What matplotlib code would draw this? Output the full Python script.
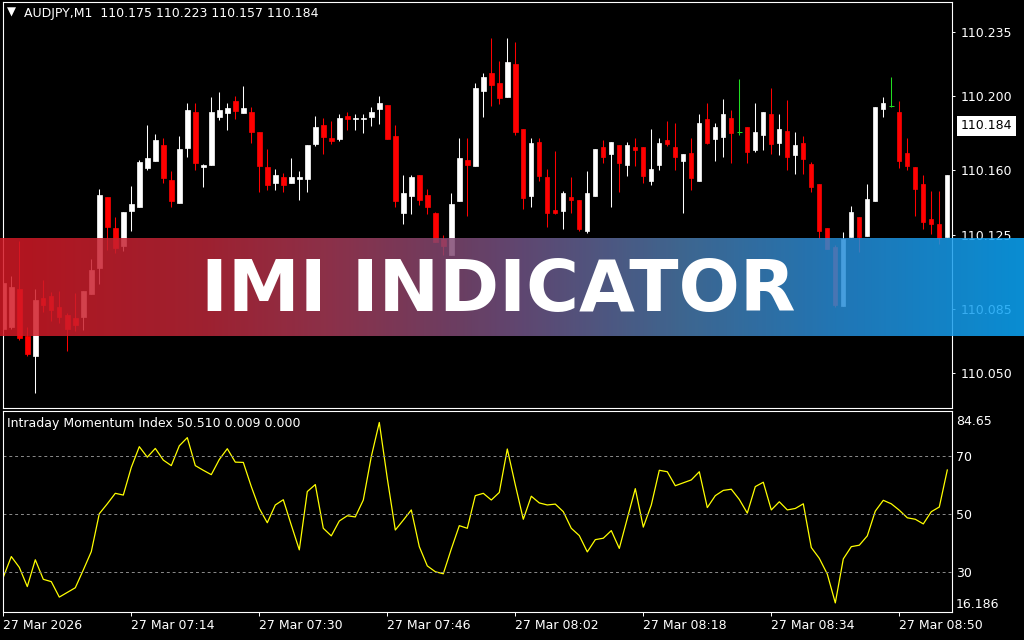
import numpy as np
import matplotlib
matplotlib.use("Agg")
import matplotlib.pyplot as plt
from matplotlib.transforms import blended_transform_factory

# AUDJPY M1 bars, 27 Mar 2026 06:58 .. 08:56 (one bar per minute)
opens = [110.0740, 110.0751, 110.0957, 110.0702, 110.0594, 110.0908, 110.0919, 110.0859, 110.0816, 110.0800,
         110.0805, 110.0930, 110.1070, 110.1455, 110.1287, 110.1190, 110.1379, 110.1401, 110.1612, 110.1650,
         110.1737, 110.1547, 110.1423, 110.1720, 110.1915, 110.1618, 110.1628, 110.1888, 110.1910, 110.1975,
         110.1910, 110.1915, 110.1807, 110.1618, 110.1531, 110.1563, 110.1531, 110.1553, 110.1553, 110.1742,
         110.1845, 110.1775, 110.1769, 110.1894, 110.1877, 110.1877, 110.1888, 110.1932, 110.1953, 110.1785,
         110.1368, 110.1460, 110.1574, 110.1466, 110.1368, 110.1228, 110.1141, 110.1433, 110.1655, 110.1623,
         110.2029, 110.2127, 110.2072, 110.1997, 110.2175, 110.1823, 110.1460, 110.1753, 110.1563, 110.1385,
         110.1379, 110.1455, 110.1439, 110.1271, 110.1460, 110.1726, 110.1688, 110.1737, 110.1628, 110.1726,
         110.1726, 110.1542, 110.1628, 110.1764, 110.1726, 110.1650, 110.1693, 110.1542, 110.1877, 110.1769,
         110.1780, 110.1883, 110.1807, 110.1834, 110.1710, 110.1791, 110.1905, 110.1747, 110.1812, 110.1682,
         110.1747, 110.1634, 110.1525, 110.1287, 110.1184, 110.0865, 110.1238, 110.1347, 110.1244, 110.1433,
         110.1932, 110.1948, 110.1915, 110.1693, 110.1618, 110.1525, 110.1336, 110.1309, 110.1238]
highs = [110.1006, 110.1027, 110.1217, 110.0751, 110.0957, 110.1006, 110.0940, 110.0946, 110.0827, 110.0935,
         110.0946, 110.1119, 110.1498, 110.1455, 110.1347, 110.1374, 110.1515, 110.1655, 110.1845, 110.1796,
         110.1775, 110.1596, 110.1785, 110.1964, 110.1964, 110.1634, 110.1997, 110.2024, 110.1964, 110.2002,
         110.2056, 110.1943, 110.1807, 110.1715, 110.1607, 110.1585, 110.1666, 110.1596, 110.1737, 110.1894,
         110.1883, 110.1867, 110.1905, 110.1915, 110.1905, 110.1905, 110.1943, 110.2002, 110.1953, 110.1845,
         110.1574, 110.1574, 110.1574, 110.1498, 110.1374, 110.1249, 110.1477, 110.1775, 110.1775, 110.2072,
         110.2127, 110.2316, 110.2192, 110.2316, 110.2295, 110.1823, 110.1775, 110.1775, 110.1607, 110.1704,
         110.1488, 110.1563, 110.1439, 110.1596, 110.1715, 110.1764, 110.1753, 110.1737, 110.1753, 110.1775,
         110.1726, 110.1823, 110.1775, 110.1867, 110.1856, 110.1688, 110.1775, 110.1905, 110.1964, 110.1856,
         110.1986, 110.1926, 110.2094, 110.1834, 110.1964, 110.1915, 110.2045, 110.1905, 110.1980, 110.1807,
         110.1785, 110.1645, 110.1525, 110.1287, 110.1195, 110.1266, 110.1406, 110.1347, 110.1525, 110.1943,
         110.1997, 110.2105, 110.1975, 110.1775, 110.1618, 110.1574, 110.1488, 110.1488, 110.1574]
lows = [110.0697, 110.0740, 110.0681, 110.0594, 110.0393, 110.0832, 110.0783, 110.0773, 110.0621, 110.0729,
        110.0735, 110.0930, 110.0984, 110.1168, 110.1152, 110.1163, 110.1271, 110.1401, 110.1601, 110.1650,
        110.1531, 110.1401, 110.1423, 110.1672, 110.1601, 110.1509, 110.1628, 110.1872, 110.1818, 110.1877,
        110.1910, 110.1747, 110.1482, 110.1493, 110.1493, 110.1482, 110.1531, 110.1439, 110.1482, 110.1731,
        110.1688, 110.1742, 110.1758, 110.1818, 110.1818, 110.1802, 110.1840, 110.1850, 110.1769, 110.1401,
        110.1309, 110.1363, 110.1412, 110.1363, 110.1211, 110.1141, 110.1141, 110.1433, 110.1352, 110.1623,
        110.1888, 110.1948, 110.1959, 110.1997, 110.1791, 110.1390, 110.1401, 110.1542, 110.1293, 110.1363,
        110.1282, 110.1368, 110.1271, 110.1260, 110.1460, 110.1639, 110.1401, 110.1482, 110.1569, 110.1623,
        110.1531, 110.1520, 110.1601, 110.1731, 110.1601, 110.1368, 110.1493, 110.1542, 110.1742, 110.1650,
        110.1672, 110.1639, 110.1791, 110.1639, 110.1699, 110.1710, 110.1688, 110.1682, 110.1601, 110.1580,
        110.1580, 110.1482, 110.1233, 110.1173, 110.0859, 110.0865, 110.1238, 110.1157, 110.1244, 110.1433,
        110.1888, 110.1943, 110.1612, 110.1601, 110.1352, 110.1282, 110.1255, 110.1201, 110.1238]
closes = [110.0989, 110.0968, 110.0691, 110.0605, 110.0897, 110.0870, 110.0843, 110.0805, 110.0740, 110.0762,
          110.0946, 110.1060, 110.1466, 110.1293, 110.1179, 110.1374, 110.1417, 110.1645, 110.1666, 110.1764,
          110.1558, 110.1433, 110.1715, 110.1926, 110.1639, 110.1628, 110.1915, 110.1926, 110.1937, 110.1921,
          110.1937, 110.1807, 110.1623, 110.1520, 110.1574, 110.1520, 110.1563, 110.1563, 110.1737, 110.1834,
          110.1780, 110.1758, 110.1883, 110.1877, 110.1883, 110.1883, 110.1915, 110.1964, 110.1769, 110.1433,
          110.1477, 110.1563, 110.1439, 110.1401, 110.1211, 110.1190, 110.1417, 110.1666, 110.1628, 110.2045,
          110.2105, 110.2062, 110.1991, 110.2186, 110.1807, 110.1450, 110.1747, 110.1569, 110.1368, 110.1368,
          110.1477, 110.1439, 110.1282, 110.1477, 110.1715, 110.1672, 110.1753, 110.1639, 110.1737, 110.1710,
          110.1569, 110.1607, 110.1747, 110.1742, 110.1672, 110.1688, 110.1558, 110.1856, 110.1747, 110.1834,
          110.1905, 110.1802, 110.1807, 110.1699, 110.1807, 110.1915, 110.1742, 110.1823, 110.1672, 110.1737,
          110.1661, 110.1509, 110.1271, 110.1173, 110.0870, 110.1228, 110.1374, 110.1238, 110.1444, 110.1943,
          110.1964, 110.1948, 110.1650, 110.1623, 110.1498, 110.1320, 110.1309, 110.1233, 110.1574]

# Intraday Momentum Index, one value per bar
imi = [28.3, 35.4, 31.7, 25.1, 34.3, 27.6, 26.8, 21.5, 23.1, 24.7,
       30.8, 37.1, 50.1, 53.5, 57.1, 56.5, 66.0, 73.1, 69.5, 72.5,
       68.5, 66.6, 73.4, 76.2, 66.6, 65.0, 63.5, 68.7, 72.4, 67.8,
       67.7, 59.4, 51.9, 47.0, 53.1, 54.9, 46.2, 37.7, 57.7, 60.1,
       45.1, 42.5, 47.6, 49.4, 49.0, 54.8, 69.7, 81.4, 62.2, 44.5,
       47.9, 51.4, 38.8, 32.2, 30.2, 29.5, 38.0, 46.0, 45.1, 56.3,
       57.1, 54.8, 57.4, 72.3, 60.0, 48.2, 56.1, 53.8, 53.1, 53.4,
       50.8, 45.1, 42.6, 37.0, 41.2, 41.7, 44.3, 38.2, 48.5, 58.7,
       45.5, 53.1, 65.0, 64.5, 59.7, 60.7, 61.7, 64.5, 52.2, 56.3,
       58.1, 58.5, 55.0, 50.3, 59.4, 60.9, 51.4, 54.2, 51.4, 51.9,
       53.5, 38.5, 34.8, 29.4, 19.5, 34.6, 38.8, 39.3, 42.5, 51.0,
       54.7, 53.5, 51.3, 48.7, 48.2, 46.6, 50.8, 52.4, 65.1]

time_ticks = [0, 16, 32, 48, 64, 80, 96, 112]
time_labels = ["27 Mar 2026", "27 Mar 07:14", "27 Mar 07:30", "27 Mar 07:46",
               "27 Mar 08:02", "27 Mar 08:18", "27 Mar 08:34", "27 Mar 08:50"]
price_ticks = [110.235, 110.200, 110.160, 110.125, 110.085, 110.050]
imi_levels = [30, 50, 70]
last_price = 110.184
header = "AUDJPY,M1  110.175 110.223 110.157 110.184"
imi_header = "Intraday Momentum Index 50.510 0.009 0.000"
imi_max, imi_min = "84.65", "16.186"

plt.rcParams["font.family"] = ["DejaVu Sans"]
W, H = 1024, 640

fig = plt.figure(figsize=(10.24, 6.4), dpi=100, facecolor="black")
ax = fig.add_axes([2.7 / W, 1 - 408.3 / H, 949.6 / W, 406.6 / H], facecolor="black")
ax2 = fig.add_axes([2.7 / W, 1 - 612.3 / H, 949.6 / W, 201.6 / H], facecolor="black")

o = np.array(opens)
h = np.array(highs)
l = np.array(lows)
c = np.array(closes)
x = np.arange(len(o))

# candles: white up, red down, green for open == close
cols = np.where(c > o, "white", np.where(c < o, "#ff0000", "#22dd22"))
ax.vlines(x, l, h, colors=cols, linewidth=0.75)
body = c != o
ax.bar(x[body], np.abs(c - o)[body], bottom=np.minimum(o, c)[body], width=0.55,
       color=cols[body], edgecolor=cols[body], linewidth=0.5)
ax.hlines(o[~body], x[~body] - 0.33, x[~body] + 0.33, colors=cols[~body], linewidth=0.75)

ax.set_xlim(-0.075, 118.625)
ax.set_ylim(110.0310, 110.2512)
ax.set_xticks([])
ax.yaxis.tick_right()
ax.set_yticks(price_ticks, [f"{v:.3f}" for v in price_ticks])
ax.tick_params(axis="y", colors="white", length=2.5, width=0.7, pad=3.2, labelsize=9)
for s in ax.spines.values():
    s.set_color("white")
    s.set_linewidth(0.8)

# current price marker
tr = blended_transform_factory(ax.transAxes, ax.transData)
ax.text(1.0085, last_price, f"{last_price:.3f}", transform=tr, ha="left", va="center",
        fontsize=9, color="black", clip_on=False,
        bbox=dict(boxstyle="square,pad=0.3", fc="white", ec="none"))

# IMI sub window
ax2.plot(x, imi, color="#ffff00", linewidth=0.9)
for lv in imi_levels:
    ax2.axhline(lv, color="#8c8c8c", linewidth=0.7, linestyle=(0, (3, 3)))
ax2.set_xlim(-0.075, 118.625)
ax2.set_ylim(16.28, 85.44)
ax2.yaxis.tick_right()
ax2.set_yticks(imi_levels, [str(v) for v in imi_levels])
ax2.tick_params(axis="y", colors="white", length=0, pad=3, labelsize=9)
ax2.set_xticks(time_ticks, time_labels)
ax2.tick_params(axis="x", colors="white", length=3, width=0.7, pad=2, labelsize=9)
for lbl in ax2.get_xticklabels():
    lbl.set_horizontalalignment("left")
for s in ax2.spines.values():
    s.set_color("white")
    s.set_linewidth(0.8)
ax2.text(1.004, 0.945, imi_max, transform=ax2.transAxes, ha="left", va="center",
         color="white", fontsize=9, clip_on=False)
ax2.text(1.004, 0.041, imi_min, transform=ax2.transAxes, ha="left", va="center",
         color="white", fontsize=9, clip_on=False)

fig.text(6.5 / W, 1 - 12.5 / H, "\u25bc", color="white", fontsize=8.5, va="center")
fig.text(24 / W, 1 - 14 / H, header, color="white", fontsize=9, va="center")
fig.text(6.7 / W, 1 - 424 / H, imi_header, color="white", fontsize=9, va="center")

# translucent red -> blue banner across the chart
alpha = 0.85
gx = [0, 200, 333, 467, 512, 679, 845, 1023]
gr = [181, 160, 140, 106, 98, 63, 32, 10]
gg = [21, 33, 50, 64, 70, 102, 120, 142]
gb = [31, 48, 75, 101, 112, 144, 184, 212]
px = np.arange(W)
grad = np.zeros((1, W, 4))
grad[0, :, 0] = np.interp(px, gx, gr) / 255 / alpha
grad[0, :, 1] = np.interp(px, gx, gg) / 255 / alpha
grad[0, :, 2] = np.interp(px, gx, gb) / 255 / alpha
grad = np.clip(grad, 0, 1)
grad[0, :, 3] = alpha
bax = fig.add_axes([0, 1 - 336 / H, 1, 98 / H], zorder=10)
bax.imshow(grad, aspect="auto", extent=[0, 1, 0, 1], interpolation="bilinear")
bax.set_axis_off()
fig.text(498 / W, 1 - 311 / H, "IMI INDICATOR", color="white", fontsize=52,
         fontweight="bold", ha="center", va="baseline", zorder=11)

fig.savefig("out.png", dpi=100, facecolor="black")
